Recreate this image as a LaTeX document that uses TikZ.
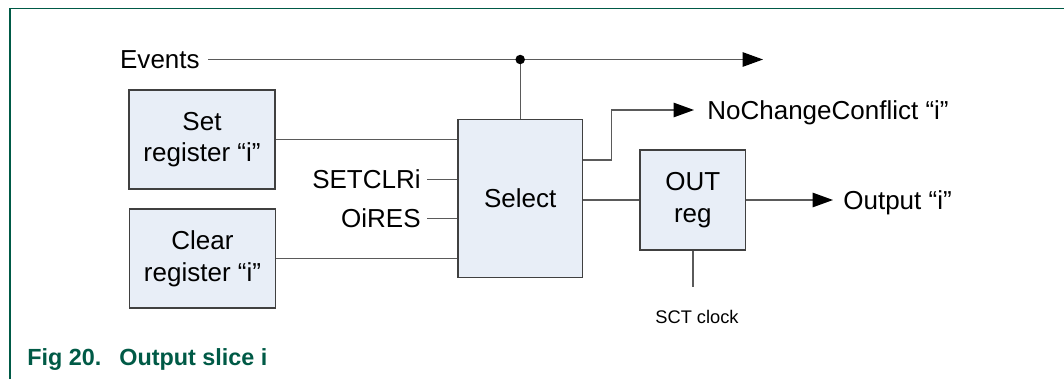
\documentclass[tikz,border=0pt]{standalone}
\usepackage{fontspec}
\setmainfont{Liberation Sans}
\usetikzlibrary{arrows.meta, positioning}

\definecolor{nxpgreen}{RGB}{0,90,70}
\definecolor{boxfill}{RGB}{232,238,247}
\definecolor{wire}{RGB}{90,90,90}

\begin{document}
\begin{tikzpicture}[x=0.02cm, y=-0.02cm,
        block/.style={rectangle, draw=black!75, fill=boxfill, line width=0.8pt, align=center, inner sep=0pt, font=\fontsize{14.8}{18}\selectfont},
        sig/.style={inner sep=0pt, text height=10.6pt, text depth=0pt, font=\fontsize{14.8}{18}\selectfont},
        wireline/.style={draw=wire, line width=0.8pt},
        sigarrow/.style={wireline, -{Triangle[length=0.41cm, width=0.29cm, color=black, fill=black]}}]
        \useasboundingbox (0,0) rectangle (1064,379);

        % Frame
        \draw[nxpgreen, line width=0.8pt] (10,379) |- (1064,8.5);

        % Blocks
        \node[block, minimum width=2.92cm, minimum height=1.98cm] (setreg) at (202,139.5) {Set\\register “i”};
        \node[block, minimum width=2.92cm, minimum height=1.98cm] (clrreg) at (202.5,258.5) {Clear\\register “i”};
        \node[block, minimum width=2.49cm, minimum height=3.16cm] (select) at (520.2,198.5) {Select};
        \node[block, minimum width=2.11cm, minimum height=2cm] (outreg) at (692.8,200) {OUT\\reg};

        % Signal labels
        \node[sig, anchor=east] (events) at (200,59.5) {Events};
        \node[sig, anchor=east] (setclr) at (421,179.5) {SETCLRi};
        \node[sig, anchor=east] (oires) at (421,218.5) {OiRES};
        \node[sig, anchor=west] (ncc) at (707,110) {NoChangeConflict “i”};
        \node[sig, anchor=west] (output) at (843,200) {Output “i”};
        \node[inner sep=0pt, text height=7.5pt, text depth=0pt, font=\fontsize{10.4}{12}\selectfont] (sctclk) at (697,316.5) {SCT clock};

        % Free ends
        \coordinate (evend) at (763,59.5);
        \coordinate (tap) at (select.north |- evend);

        % Connections
        \draw[sigarrow] ([xshift=0.16cm]events.east) -- (evend);
        \draw[wireline] (tap) -- (select.north);
        \fill[black] (tap) circle (0.095cm);
        \draw[wireline] (setreg.east) -- (setreg.east -| select.west);
        \draw[wireline] ([xshift=0.12cm]setclr.east) -- (setclr.east -| select.west);
        \draw[wireline] ([xshift=0.12cm]oires.east) -- (oires.east -| select.west);
        \draw[wireline] (clrreg.east) -- (clrreg.east -| select.west);
        \draw[sigarrow] ([yshift=0.77cm]select.east) -- ++(28.5,0) |- ([xshift=-0.26cm]ncc.west);
        \draw[wireline] (select.east |- outreg.west) -- (outreg.west);
        \draw[sigarrow] (outreg.east) -- ([xshift=-0.2cm]output.west);
        \draw[wireline] (outreg.south) -- ++(0,36);

        % Caption
        \node[anchor=base west, inner sep=0pt, text=nxpgreen, font=\fontsize{13.3}{15}\bfseries] (fignum) at (27,365) {Fig 20.};
        \node[anchor=base west, inner sep=0pt, text=nxpgreen, font=\fontsize{13.3}{15}\bfseries] (figtitle) at (119,365) {Output slice i};
\end{tikzpicture}
\end{document}
